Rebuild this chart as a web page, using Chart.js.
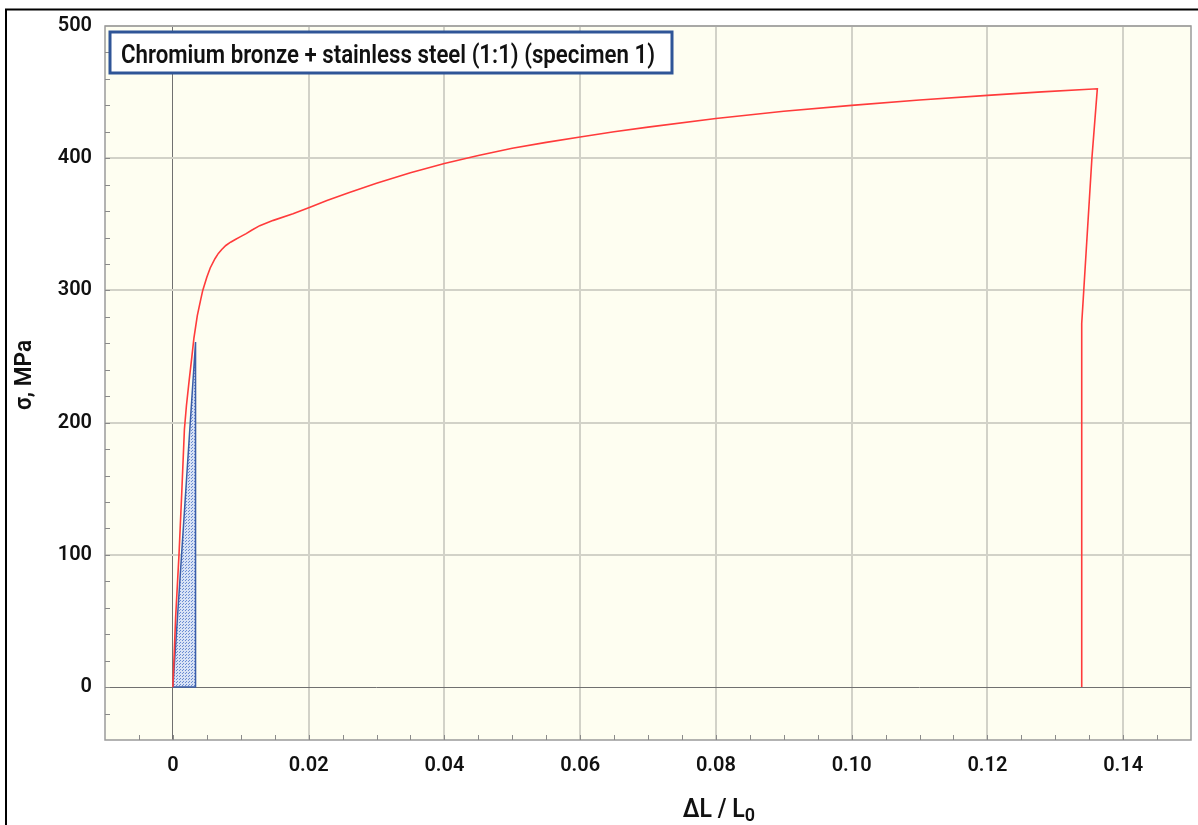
<!DOCTYPE html>
<html>
<head>
<meta charset="utf-8">
<script src="https://cdn.jsdelivr.net/npm/chart.js@4.4.1/dist/chart.umd.min.js"></script>
<style>
  html, body { margin: 0; padding: 0; background: #fff; overflow: hidden; }
  canvas { display: block; }
</style>
</head>
<body>
<canvas id="chart" width="1198" height="825"></canvas>
<script>
// Tensile test record: relative elongation vs. engineering stress
const strain = [0, 0.0004, 0.0009, 0.0013, 0.0017, 0.0020, 0.0024, 0.0028, 0.0031, 0.0036,
  0.0041, 0.0044, 0.0050, 0.0055, 0.0062, 0.0067, 0.0072, 0.0078, 0.0085, 0.0092,
  0.0099, 0.0108, 0.0116, 0.0128, 0.0148, 0.0177, 0.0202, 0.0227, 0.0260, 0.0300,
  0.0350, 0.0400, 0.0450, 0.0500, 0.0550, 0.0600, 0.0650, 0.0700, 0.0800, 0.0900,
  0.1000, 0.1100, 0.1200, 0.1280, 0.1362, 0.1354, 0.1342, 0.1339, 0.1339];
const stress = [0, 52, 100, 146, 195, 213, 232, 250, 264, 281,
  293, 300, 310, 317, 324, 328, 331, 334, 336.5, 338.5,
  340.5, 343, 345.5, 349, 353, 358, 363, 368, 374, 381,
  389, 396, 402, 407.5, 412, 416, 420, 423.5, 430, 435.5,
  440, 444, 447.5, 450.2, 452.5, 400, 300, 275, 0];

// Elastic-strain triangle (dotted area and its outline)
const elasticStrain = [0, 0.00334];
const elasticStress = [0, 261];
const elasticOutlineStrain = [0, 0.00334, 0.00334, 0];
const elasticOutlineStress = [0, 261, 0, 0];

const xTickValues = [0, 0.02, 0.04, 0.06, 0.08, 0.10, 0.12, 0.14];
const xTickLabels = ['0', '0.02', '0.04', '0.06', '0.08', '0.10', '0.12', '0.14'];
const yTickValues = [0, 100, 200, 300, 400, 500];
const yTickLabels = ['0', '100', '200', '300', '400', '500'];

const seriesTitle = 'Chromium bronze + stainless steel (1:1) (specimen 1)';
const xTitle = 'ΔL / L';
const xTitleSub = '0';
const yTitle = 'σ, MPa';

const canvas = document.getElementById('chart');
const ctx = canvas.getContext('2d');

function dotPattern() {
  const p = document.createElement('canvas');
  p.width = 3; p.height = 3;
  const g = p.getContext('2d');
  g.fillStyle = '#d8e2f5';
  g.fillRect(0, 0, 3, 3);
  g.fillStyle = '#6a8bd2';
  g.fillRect(0, 0, 1, 1);
  g.fillRect(2, 1, 1, 1);
  return ctx.createPattern(p, 'repeat');
}

const toPoints = (xs, ys) => xs.map((x, i) => ({ x, y: ys[i] }));

const labelFont = { family: 'Roboto, "Liberation Sans", sans-serif', size: 20, weight: '600' };

const decor = {
  id: 'decor',
  beforeDraw(chart) {
    const { ctx, chartArea: a, width, height } = chart;
    ctx.save();
    ctx.fillStyle = '#ffffff';
    ctx.fillRect(0, 0, width, height);
    ctx.fillStyle = '#fefef1';
    ctx.fillRect(a.left, a.top, a.right - a.left, a.bottom - a.top);
    // page frame
    ctx.strokeStyle = '#000';
    ctx.lineWidth = 2;
    ctx.beginPath();
    ctx.moveTo(width, 9.5);
    ctx.lineTo(6, 9.5);
    ctx.lineTo(6, height);
    ctx.stroke();
    ctx.restore();
  },
  afterDraw(chart) {
    const { ctx, chartArea: a, scales } = chart;
    const xs = scales.x, ys = scales.y;
    ctx.save();

    // plot frame
    ctx.strokeStyle = '#9a9a9a';
    ctx.lineWidth = 1.5;
    ctx.strokeRect(a.left, a.top, a.right - a.left, a.bottom - a.top);

    // inward tick marks
    ctx.strokeStyle = '#8a8a8a';
    ctx.lineWidth = 1;
    ctx.beginPath();
    for (let i = -1; i <= 29; i++) {
      const px = Math.round(xs.getPixelForValue(i * 0.005)) + 0.5;
      ctx.moveTo(px, a.bottom);
      ctx.lineTo(px, a.bottom - 5);
    }
    for (let i = -1; i <= 24; i++) {
      const py = Math.round(ys.getPixelForValue(i * 20)) + 0.5;
      ctx.moveTo(a.left, py);
      ctx.lineTo(a.left + 5, py);
    }
    ctx.stroke();

    // series caption box
    const bx = a.left + 5, by = a.top + 6, bw = 562, bh = 41;
    ctx.fillStyle = '#ffffff';
    ctx.fillRect(bx, by, bw, bh);
    ctx.strokeStyle = '#2f5597';
    ctx.lineWidth = 3;
    ctx.strokeRect(bx, by, bw, bh);
    ctx.fillStyle = '#111';
    ctx.font = '600 26px Roboto, "Liberation Sans", sans-serif';
    ctx.textBaseline = 'alphabetic';
    ctx.textAlign = 'left';
    ctx.fillText(seriesTitle, bx + 11, by + 30.5, 534);

    // x axis title with subscript
    ctx.font = '600 25px Roboto, "Liberation Sans", sans-serif';
    const mainW = Math.min(ctx.measureText(xTitle).width, 62);
    ctx.font = '600 18px Roboto, "Liberation Sans", sans-serif';
    const subW = ctx.measureText(xTitleSub).width;
    const cx = 719;
    const left = cx - (mainW + subW) / 2;
    ctx.font = '600 25px Roboto, "Liberation Sans", sans-serif';
    ctx.fillText(xTitle, left, 817, 62);
    ctx.font = '600 18px Roboto, "Liberation Sans", sans-serif';
    ctx.fillText(xTitleSub, left + mainW, 821);

    // y axis title
    ctx.translate(31, 375);
    ctx.rotate(-Math.PI / 2);
    ctx.textAlign = 'center';
    ctx.font = '600 24px Roboto, "Liberation Sans", sans-serif';
    ctx.fillText(yTitle, 0, 0, 70);
    ctx.restore();
  }
};

new Chart(ctx, {
  type: 'scatter',
  data: {
    datasets: [
      {
        label: seriesTitle,
        data: toPoints(strain, stress),
        showLine: true,
        borderColor: '#ff3b3b',
        borderWidth: 1.6,
        fill: false,
        pointRadius: 0,
        tension: 0,
        order: 0
      },
      {
        label: 'elastic outline',
        data: toPoints(elasticOutlineStrain, elasticOutlineStress),
        showLine: true,
        borderColor: '#3b5ea8',
        borderWidth: 1.5,
        fill: false,
        pointRadius: 0,
        tension: 0,
        order: 1
      },
      {
        label: 'elastic area',
        data: toPoints(elasticStrain, elasticStress),
        showLine: true,
        borderWidth: 0,
        borderColor: 'rgba(0,0,0,0)',
        backgroundColor: dotPattern(),
        fill: 'origin',
        pointRadius: 0,
        tension: 0,
        order: 2
      }
    ]
  },
  options: {
    responsive: false,
    animation: false,
    events: [],
    layout: { padding: { top: 26, right: 7, left: 0, bottom: 0 } },
    plugins: { legend: { display: false }, tooltip: { enabled: false } },
    scales: {
      x: {
        type: 'linear',
        min: -0.01,
        max: 0.15,
        afterBuildTicks: s => { s.ticks = xTickValues.map(v => ({ value: v })); },
        afterFit: s => { s.height = 85; },
        ticks: {
          callback: (v, i) => xTickLabels[i],
          font: labelFont,
          color: '#111',
          padding: 14,
          maxRotation: 0,
          autoSkip: false
        },
        grid: {
          drawTicks: false,
          color: c => (c.tick && c.tick.value === 0 ? '#707070' : '#d2d2c8'),
          lineWidth: c => (c.tick && c.tick.value === 0 ? 1 : 2)
        },
        border: { display: false }
      },
      y: {
        type: 'linear',
        min: -40,
        max: 500,
        afterBuildTicks: s => { s.ticks = yTickValues.map(v => ({ value: v })); },
        afterFit: s => { s.width = 105; },
        ticks: {
          callback: (v, i) => yTickLabels[i],
          font: labelFont,
          color: '#111',
          padding: 13,
          autoSkip: false
        },
        grid: {
          drawTicks: false,
          color: c => (c.tick && c.tick.value === 0 ? '#707070' : '#d2d2c8'),
          lineWidth: c => (c.tick && c.tick.value === 0 ? 1 : 2)
        },
        border: { display: false }
      }
    }
  },
  plugins: [decor]
});
</script>
</body>
</html>
